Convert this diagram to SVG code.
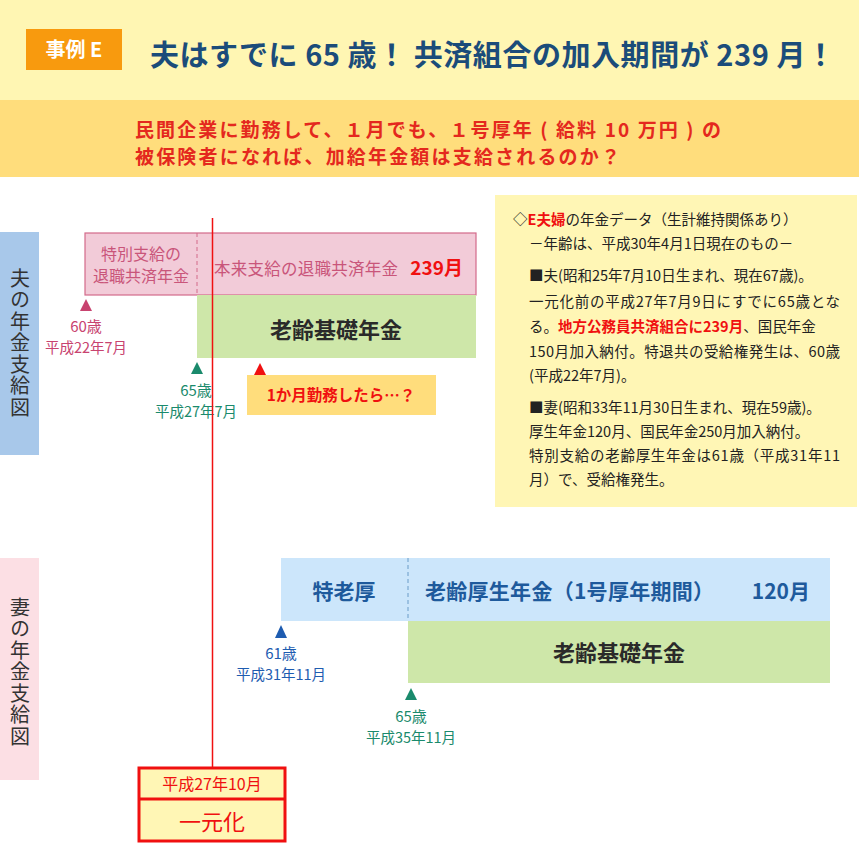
<svg xmlns="http://www.w3.org/2000/svg" width="859" height="843" viewBox="0 0 859 843">
<style>
text{font-family:"Noto Sans CJK JP","Noto Sans",sans-serif;}
.b{font-weight:bold;}
.lbl{font-size:20px;fill:#333;writing-mode:vertical-rl;letter-spacing:1.5px;}
.info{font-size:14.5px;fill:#222;}
.dk{fill:#222;}
.age{font-size:15px;text-anchor:middle;}
.dt{font-size:14.5px;text-anchor:middle;}
</style>
<rect width="859" height="843" fill="#fff"/>
<g id="header">
<rect x="0" y="0" width="859" height="100" fill="#FFF6B3"/>
<rect x="0" y="100" width="859" height="77" fill="#FFDD7C"/>
<rect x="26" y="29" width="96" height="41" fill="#F89A0E"/>
<text x="74" y="57" font-size="20" fill="#fff" class="b" text-anchor="middle">事例 E</text>
<text x="150" y="66" font-size="29" fill="#1B4C7A" class="b" textLength="685" lengthAdjust="spacing">夫はすでに 65 歳！ 共済組合の加入期間が 239 月！</text>
<text x="135" y="137" font-size="19" fill="#E4281E" class="b" textLength="586" lengthAdjust="spacing">民間企業に勤務して、１月でも、１号厚年 ( 給料 10 万円 ) の</text>
<text x="135" y="164" font-size="19" fill="#E4281E" class="b" textLength="485" lengthAdjust="spacing">被保険者になれば、加給年金額は支給されるのか？</text>
</g>
<g id="husband-label">
<rect x="0" y="232" width="39" height="223" fill="#A8C8EA"/>
<text class="lbl" x="20" y="268">夫の年金支給図</text>
</g>
<g id="kyosai">
<rect x="85" y="233" width="391" height="62" fill="#F2CBD8" stroke="#D36A8A" stroke-width="1.2"/>
<line x1="197" y1="233" x2="197" y2="295" stroke="#D36A8A" stroke-width="1" stroke-dasharray="4,3"/>
<text x="141" y="260" font-size="16" fill="#C9557A" text-anchor="middle">特別支給の</text>
<text x="141" y="282" font-size="16" fill="#C9557A" text-anchor="middle">退職共済年金</text>
<text x="214" y="275" font-size="16.5" fill="#C9557A" textLength="184" lengthAdjust="spacing">本来支給の退職共済年金</text>
<text x="463" y="275" font-size="19" fill="#F01010" class="b" text-anchor="end">239月</text>
</g>
<g id="kiso1">
<rect x="197" y="295" width="279" height="63" fill="#CEE7A9"/>
<text x="336" y="338" font-size="22" fill="#2A2A2A" class="b" text-anchor="middle">老齢基礎年金</text>
</g>
<g id="m60" fill="#C8436F">
<polygon points="86,299 80,311 92,311"/>
<text class="age" x="86" y="332">60歳</text>
<text class="dt" x="86" y="353">平成22年7月</text>
</g>
<g id="m65a" fill="#1A8A6C">
<polygon points="197,362 191,374 203,374"/>
<text class="age" x="196" y="396">65歳</text>
<text class="dt" x="196" y="417">平成27年7月</text>
</g>
<g id="work">
<polygon points="260,363 254,375 266,375" fill="#F01010"/>
<rect x="247" y="375" width="189" height="40" fill="#FFDD7C"/>
<text x="341" y="401" font-size="15.5" fill="#F01010" class="b" text-anchor="middle">1か月勤務したら…？</text>
</g>
<g id="info">
<rect x="495" y="195" width="362" height="312" fill="#FFF6B5"/>
<text class="info" x="513" y="225"><tspan class="dk">◇</tspan><tspan fill="#F01010" class="b">E夫婦</tspan><tspan class="dk">の年金データ（生計維持関係あり）</tspan></text>
<text class="info" x="529" y="249">－年齢は、平成30年4月1日現在のもの－</text>
<text class="info" x="529" y="281">■夫(昭和25年7月10日生まれ、現在67歳)。</text>
<text class="info" x="529" y="307" textLength="311" lengthAdjust="spacing">一元化前の平成27年7月9日にすでに65歳とな</text>
<text class="info" x="529" y="332"><tspan class="dk">る。</tspan><tspan fill="#F01010" class="b">地方公務員共済組合に239月</tspan><tspan class="dk">、国民年金</tspan></text>
<text class="info" x="529" y="357" textLength="311" lengthAdjust="spacing">150月加入納付。特退共の受給権発生は、60歳</text>
<text class="info" x="529" y="381">(平成22年7月)。</text>
<text class="info" x="529" y="413">■妻(昭和33年11月30日生まれ、現在59歳)。</text>
<text class="info" x="529" y="437">厚生年金120月、国民年金250月加入納付。</text>
<text class="info" x="529" y="461" textLength="311" lengthAdjust="spacing">特別支給の老齢厚生年金は61歳（平成31年11</text>
<text class="info" x="529" y="485">月）で、受給権発生。</text>
</g>
<g id="wife-label">
<rect x="0" y="558" width="39" height="222" fill="#FCDFE4"/>
<text class="lbl" x="20" y="597">妻の年金支給図</text>
</g>
<g id="kosei">
<rect x="281" y="558" width="549" height="63" fill="#CCE6FB"/>
<line x1="408" y1="558" x2="408" y2="621" stroke="#6A9CC8" stroke-width="1" stroke-dasharray="4,3"/>
<text x="344" y="599" font-size="21" fill="#1E5A9C" class="b" text-anchor="middle">特老厚</text>
<text x="425" y="599" font-size="21" fill="#1E5A9C" class="b" textLength="289" lengthAdjust="spacing">老齢厚生年金（1号厚年期間）</text>
<text x="810" y="599" font-size="21" fill="#1E5A9C" class="b" text-anchor="end">120月</text>
</g>
<g id="kiso2">
<rect x="408" y="621" width="422" height="62" fill="#CEE7A9"/>
<text x="619" y="661" font-size="22" fill="#2A2A2A" class="b" text-anchor="middle">老齢基礎年金</text>
</g>
<g id="m61" fill="#1E5CB0">
<polygon points="281,625 275,638 287,638"/>
<text class="age" x="281" y="659">61歳</text>
<text class="dt" x="281" y="680">平成31年11月</text>
</g>
<g id="m65b" fill="#1A8A6C">
<polygon points="411,688 405,700 417,700"/>
<text class="age" x="411" y="722">65歳</text>
<text class="dt" x="411" y="743">平成35年11月</text>
</g>
<g id="connectors">
<line x1="212.5" y1="218" x2="212.5" y2="768" stroke="#F01010" stroke-width="1.5"/>
</g>
<g id="ichigenka">
<rect x="139" y="768" width="146" height="73" fill="#FFF6B5" stroke="#F01010" stroke-width="3"/>
<line x1="139" y1="799" x2="285" y2="799" stroke="#F01010" stroke-width="3"/>
<text x="212" y="790" font-size="16" fill="#F01010" text-anchor="middle">平成27年10月</text>
<text x="212" y="830" font-size="22" fill="#F01010" text-anchor="middle">一元化</text>
</g>
</svg>
